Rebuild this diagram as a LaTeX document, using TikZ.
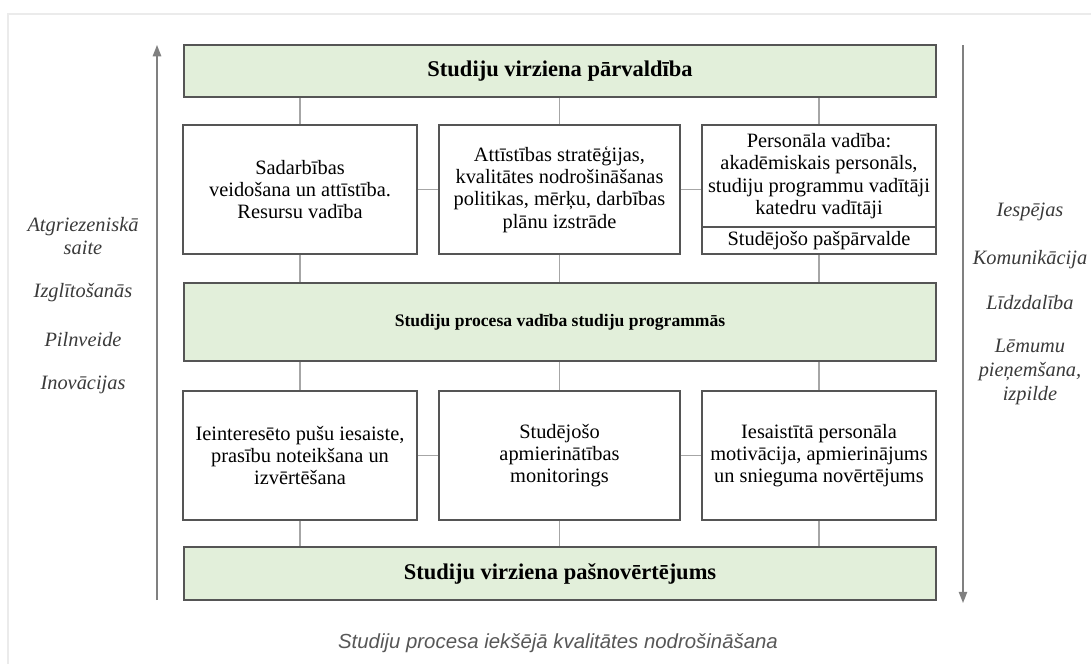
\documentclass[tikz,border=0pt]{standalone}
\usepackage{fontspec}
\setmainfont{Liberation Serif}
\setsansfont{Liberation Sans}
\usetikzlibrary{arrows.meta}
\definecolor{boxgreen}{HTML}{E2EFDA}
\definecolor{boxline}{HTML}{555555}
\definecolor{linkgray}{HTML}{A6A6A6}
\definecolor{labelgray}{HTML}{3A3A3A}
\tikzstyle{greenbox}=[draw=boxline, fill=boxgreen, line width=1.4pt, minimum width=18.8cm, inner sep=0pt, font=\bfseries\fontsize{16}{18}\selectfont]
\tikzstyle{whitebox}=[draw=boxline, fill=white, line width=1.2pt, align=center, inner sep=0pt, font=\fontsize{14.5}{15.8}\selectfont]
\tikzstyle{link}=[draw=linkgray, line width=1.2pt]
\tikzstyle{sidelabel}=[align=center, text=labelgray, font=\itshape\fontsize{14.5}{17}\selectfont]
\tikzstyle{sidearrow}=[draw=gray, line width=1pt, -{Triangle[length=8pt,width=6pt]}]

\begin{document}
\begin{tikzpicture}[x=0.025cm, y=-0.025cm]
            \useasboundingbox (0,0) rectangle (1091,664);
            \draw[draw=black!8, line width=2pt] (1091,14) -- (8,14) -- (8,664);

            \begin{scope}[every node/.style={greenbox}]
                \node[minimum height=1.3cm] (top) at (560,71) {Studiju virziena pārvaldība};
                \node[minimum height=1.95cm, font=\bfseries\fontsize{12.5}{15}\selectfont] (mid) at (560,322) {Studiju procesa vadība studiju programmās};
                \node[minimum height=1.325cm] (self) at (560,573.5) {Studiju virziena pašnovērtējums};
            \end{scope}

            \begin{scope}[every node/.style={whitebox}]
                \node[minimum width=5.85cm, minimum height=3.225cm] (box1) at (300,189.5) {Sadarbības\\veidošana un attīstība.\\Resursu vadība};
                \node[minimum width=6.025cm, minimum height=3.225cm] (box2) at (559.5,189.5) {Attīstības stratēģijas,\\kvalitātes nodrošināšanas\\politikas, mērķu, darbības\\plānu izstrāde};
                \node[minimum width=5.85cm, minimum height=2.55cm] (box3a) at (819,176) {Personāla vadība:\\akadēmiskais personāls,\\studiju programmu vadītāji\\katedru vadītāji};
                \node[minimum width=5.85cm, minimum height=0.675cm] (box3b) at (819,240.5) {Studējošo pašpārvalde};
                \node[minimum width=5.85cm, minimum height=3.225cm] (low1) at (300,455.5) {Ieinteresēto pušu iesaiste,\\prasību noteikšana un\\izvērtēšana};
                \node[minimum width=6.025cm, minimum height=3.225cm] (low2) at (559.5,455.5) {Studējošo\\apmierinātības\\monitorings};
                \node[minimum width=5.85cm, minimum height=3.225cm] (low3) at (819,455.5) {Iesaistītā personāla\\motivācija, apmierinājums\\un snieguma novērtējums};
            \end{scope}

            \begin{scope}[every path/.style={link}]
                \path (top.south -| box1.north) -- (box1.north);
                \path (top.south -| box2.north) -- (box2.north);
                \path (top.south -| box3a.north) -- (box3a.north);
                \path (box1.east) -- (box2.west);
                \path (box2.east) -- (box2.east -| box3a.west);
                \path (box1.south) -- (box1.south |- mid.north);
                \path (box2.south) -- (box2.south |- mid.north);
                \path (box3b.south) -- (box3b.south |- mid.north);
                \path (mid.south -| low1.north) -- (low1.north);
                \path (mid.south -| low2.north) -- (low2.north);
                \path (mid.south -| low3.north) -- (low3.north);
                \path (low1.east) -- (low2.west);
                \path (low2.east) -- (low3.west);
                \path (low1.south) -- (low1.south |- self.north);
                \path (low2.south) -- (low2.south |- self.north);
                \path (low3.south) -- (low3.south |- self.north);
            \end{scope}

            % side arrows
            \coordinate (lbot) at (157,600);
            \coordinate (ltop) at (157,45);
            \coordinate (rtop) at (963,45);
            \coordinate (rbot) at (963,603);
            \draw[sidearrow] (lbot) -- (ltop);
            \draw[sidearrow] (rtop) -- (rbot);

            \begin{scope}[every node/.style={sidelabel}]
                \node (fb) at (83,236) {Atgriezeniskā\\saite};
                \node (edu) at (83,293) {Izglītošanās};
                \node (imp) at (83,340) {Pilnveide};
                \node (inn) at (83,385) {Inovācijas};
                \node (opp) at (1030,212) {Iespējas};
                \node (com) at (1030,260) {Komunikācija};
                \node (par) at (1030,303) {Līdzdalība};
                \node (dec) at (1030,372) {Lēmumu\\pieņemšana,\\izpilde};
            \end{scope}

            \node[text=labelgray!85, font=\sffamily\itshape\fontsize{14.5}{16}\selectfont] (caption) at (558,643) {Studiju procesa iekšējā kvalitātes nodrošināšana};
        \end{tikzpicture}
\end{document}
